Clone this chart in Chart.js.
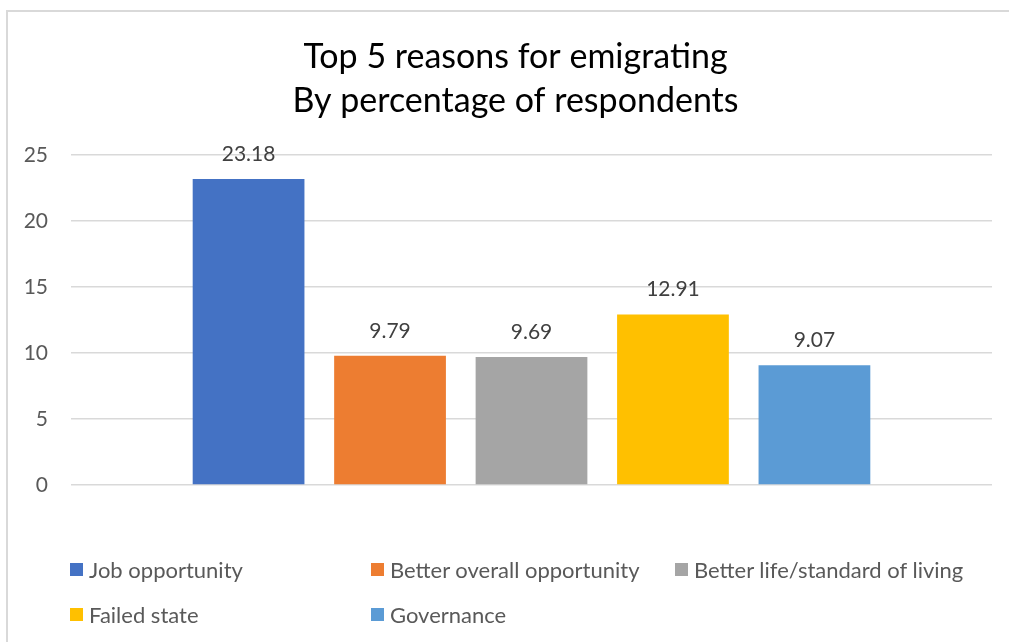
<!DOCTYPE html>
<html>
<head>
<meta charset="utf-8">
<script src="https://cdn.jsdelivr.net/npm/chart.js@4.4.0/dist/chart.umd.min.js"></script>
<style>
  html, body { margin: 0; padding: 0; background: #fff; }
  #wrap { position: relative; width: 1009px; height: 642px; overflow: hidden; }
  #frame { position: absolute; left: 6px; top: 10px; right: -4px; bottom: -4px;
           border-left: 2px solid #d9d9d9; border-top: 2px solid #d9d9d9; }
  #chart { position: absolute; left: 0; top: 0; }
  .legend-item { position: absolute; display: flex; align-items: center; height: 30px;
                 font-family: Lato, sans-serif; font-size: 22px; color: #595959; white-space: nowrap; }
  .legend-item span.box { display: inline-block; width: 13px; height: 13px; margin-right: 6px; }
</style>
</head>
<body>
<div id="wrap">
  <div id="frame"></div>
  <canvas id="chart" width="1009" height="642"></canvas>
  <div id="legend"></div>
</div>
<script>
// chart data
const categories = [''];
const seriesNames = ['Job opportunity', 'Better overall opportunity', 'Better life/standard of living', 'Failed state', 'Governance'];
const seriesValues = [23.18, 9.79, 9.69, 12.91, 9.07];
const seriesColors = ['#4472C4', '#ED7D31', '#A5A5A5', '#FFC000', '#5B9BD5'];
const yTicks = [0, 5, 10, 15, 20, 25];
const titleLines = ['Top 5 reasons for emigrating', 'By percentage of respondents'];

// legend grid (excel style, 3 per row)
const legendCols = [70, 371, 675];
const legendRows = [554, 599];

const valueLabels = {
  id: 'valueLabels',
  afterDatasetsDraw(chart) {
    const ctx = chart.ctx;
    ctx.save();
    ctx.font = '21px Lato';
    ctx.fillStyle = '#404040';
    ctx.textAlign = 'center';
    ctx.textBaseline = 'middle';
    chart.data.datasets.forEach((ds, i) => {
      const meta = chart.getDatasetMeta(i);
      meta.data.forEach((bar, j) => {
        ctx.fillText(ds.data[j].toFixed(2), bar.x, bar.y - 25);
      });
    });
    ctx.restore();
  }
};

// excel centres the title on the whole chart box, not on canvas minus right pad
const titleShift = {
  id: 'titleShift',
  afterLayout(chart) {
    if (chart.titleBlock) chart.titleBlock.left = 39;
  }
};

const datasets = seriesNames.map((name, i) => ({
  label: name,
  data: [seriesValues[i]],
  backgroundColor: seriesColors[i],
  barPercentage: 0.79,
  categoryPercentage: 0.768
}));

const chart = new Chart(document.getElementById('chart'), {
  type: 'bar',
  data: { labels: categories, datasets: datasets },
  options: {
    responsive: false,
    animation: false,
    devicePixelRatio: 1,
    layout: { padding: { left: 0, right: 17, top: 0, bottom: 157 } },
    plugins: {
      legend: { display: false },
      tooltip: { enabled: false },
      title: {
        display: true,
        text: titleLines,
        color: '#000',
        font: { family: 'Lato', size: 34, weight: 'normal', lineHeight: 1.294 },
        padding: { top: 35, bottom: 32 }
      }
    },
    scales: {
      x: { display: false },
      y: {
        min: yTicks[0],
        max: yTicks[yTicks.length - 1],
        afterBuildTicks: (scale) => { scale.ticks = yTicks.map(v => ({ value: v })); },
        afterFit: (scale) => { scale.width = 71; },
        border: { display: false },
        grid: { color: '#d9d9d9', lineWidth: 1.5, drawTicks: false },
        ticks: { color: '#595959', font: { family: 'Lato', size: 21 }, padding: 23 }
      }
    }
  },
  plugins: [valueLabels, titleShift]
});

// html legend built from the chart datasets
const legendEl = document.getElementById('legend');
chart.data.datasets.forEach((ds, i) => {
  const item = document.createElement('div');
  item.className = 'legend-item';
  item.style.left = legendCols[i % 3] + 'px';
  item.style.top = legendRows[Math.floor(i / 3)] + 'px';
  const box = document.createElement('span');
  box.className = 'box';
  box.style.background = ds.backgroundColor;
  item.appendChild(box);
  item.appendChild(document.createTextNode(ds.label));
  legendEl.appendChild(item);
});
</script>
</body>
</html>
